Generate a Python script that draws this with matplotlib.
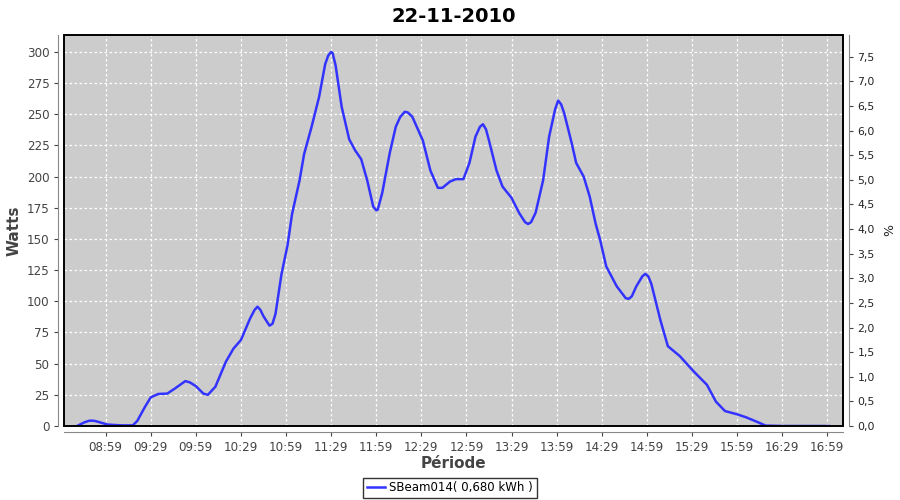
import matplotlib
matplotlib.use("Agg")
import matplotlib.pyplot as plt
from matplotlib.patches import Rectangle
from matplotlib.ticker import FixedLocator, FuncFormatter, MultipleLocator

title = "22-11-2010"
series_name = "SBeam014( 0,680 kWh )"

times = ["08:40", "08:45", "08:48", "08:50", "08:52", "08:55", "09:00", "09:05",
         "09:10", "09:17", "09:20", "09:25", "09:29", "09:34", "09:40", "09:45",
         "09:52", "09:55", "09:59", "10:04", "10:07", "10:12", "10:19", "10:24",
         "10:29", "10:35", "10:38", "10:40", "10:42", "10:44", "10:48", "10:50",
         "10:52", "10:56", "11:00", "11:03", "11:08", "11:11", "11:16", "11:21",
         "11:25", "11:27", "11:29", "11:30", "11:32", "11:36", "11:41", "11:45",
         "11:49", "11:53", "11:57", "11:59", "12:00", "12:03", "12:08", "12:12",
         "12:15", "12:18", "12:20", "12:23", "12:30", "12:35", "12:40", "12:43",
         "12:48", "12:52", "12:57", "13:01", "13:05", "13:08", "13:10", "13:12",
         "13:14", "13:19", "13:23", "13:29", "13:34", "13:38", "13:40", "13:42",
         "13:45", "13:50", "13:54", "13:58", "14:00", "14:02", "14:04", "14:09",
         "14:12", "14:17", "14:21", "14:25", "14:28", "14:32", "14:39", "14:45",
         "14:47", "14:49", "14:52", "14:56", "14:58", "15:00", "15:02", "15:08",
         "15:13", "15:21", "15:30", "15:39", "15:45", "15:51", "15:59", "16:05",
         "16:12", "16:18", "16:30", "16:45", "17:00"]
watts = [0, 3, 4.2, 4.3, 4, 3, 1.2, 0.8,
         0.5, 0.5, 4, 15, 23, 25.7, 26, 30,
         36, 35, 32, 26, 25, 31.5, 51.6, 62,
         69, 86, 93, 95.7, 93, 88, 80.5, 82,
         90, 122, 145, 170, 197, 218, 240, 264,
         290, 297, 300, 299, 289, 256, 230, 221,
         214, 197, 176, 173, 173.5, 187, 219, 240,
         248, 252, 251.5, 248, 229, 205, 191, 191,
         196, 198, 198, 211, 232, 240, 242, 238,
         229, 205, 192, 183, 171, 163.5, 162, 163.5,
         171, 197, 232, 254, 261, 258, 251, 227,
         211, 200, 184, 162, 149, 128, 112, 102.5,
         102, 104, 112, 120, 122, 120, 114, 85,
         64, 56, 44, 33, 19.5, 12, 9.4, 7,
         3.5, 0.3, 0, 0, 0]

tick_labels = ["08:59", "09:29", "09:59", "10:29", "10:59", "11:29", "11:59",
               "12:29", "12:59", "13:29", "13:59", "14:29", "14:59", "15:29",
               "15:59", "16:29", "16:59"]


def to_min(s):
    h, m = s.split(":")
    return int(h) * 60 + int(m)


x = [to_min(t) for t in times]
ticks = [to_min(t) for t in tick_labels]

plt.rcParams['font.family'] = ['DejaVu Sans']
fig = plt.figure(figsize=(9, 5), dpi=100)
ax = fig.add_axes([64 / 900, 74 / 500, 779 / 900, 391 / 500])
ax.set_facecolor("#cccccc")

ax.plot(x, watts, color="#3333ff", linewidth=1.8, label=series_name, zorder=3,
        solid_joinstyle="round")

ax.set_xlim(to_min("08:30") + 1.3, to_min("17:10") - 0.5)
ax.set_ylim(0, 313.6)
ax.xaxis.set_major_locator(FixedLocator(ticks))
ax.set_xticklabels(tick_labels)
ax.yaxis.set_major_locator(MultipleLocator(25))
ax.grid(True, color="white", linestyle=(0, (2, 2)), linewidth=0.9)
ax.set_axisbelow(True)

ax2 = ax.twinx()
ax2.set_ylim(0, 7.94)
ax2.yaxis.set_major_locator(MultipleLocator(0.5))
ax2.yaxis.set_major_formatter(FuncFormatter(lambda v, p: ("%.1f" % v).replace(".", ",")))

for a in (ax, ax2):
    for s in a.spines.values():
        s.set_visible(False)
    a.tick_params(colors="#444444", labelsize=8.6, length=3, width=0.8)
ax2.tick_params(labelcolor="#222222", labelsize=7.8)
ax.spines["left"].set_visible(True)
ax.spines["left"].set_position(("outward", 4))
ax.spines["left"].set_color("#888888")
ax.spines["bottom"].set_visible(True)
ax.spines["bottom"].set_position(("outward", 4))
ax.spines["bottom"].set_color("#888888")
ax2.spines["right"].set_visible(True)
ax2.spines["right"].set_position(("outward", 4))
ax2.spines["right"].set_color("#888888")

ax.add_patch(Rectangle((0, 0), 1, 1, transform=ax.transAxes, fill=False,
                       edgecolor="black", linewidth=1.4, zorder=5, clip_on=False))

ax.set_title(title, fontsize=14, fontweight="bold", pad=9)
ax.set_xlabel("Période", fontsize=11, fontweight="bold", color="#444444", labelpad=2)
ax.set_ylabel("Watts", fontsize=11, fontweight="bold", color="#444444", labelpad=4)
ax2.set_ylabel("%", fontsize=9, color="#222222", labelpad=6)

leg = fig.legend(loc="center", bbox_to_anchor=(0.5, 0.024), frameon=True,
                 fancybox=False, fontsize=8.5, handlelength=1.5,
                 borderpad=0.3, handletextpad=0.4)
leg.get_frame().set_edgecolor("black")
leg.get_frame().set_linewidth(1.0)

fig.savefig("out.png", dpi=100)
